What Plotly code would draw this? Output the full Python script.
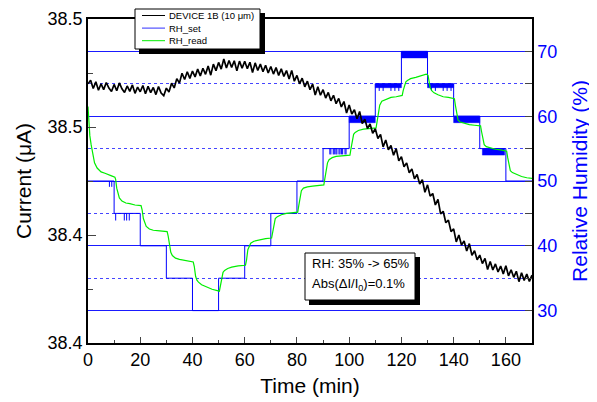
import plotly.graph_objects as go

# ---------------- data ----------------
time_min = list(range(0, 171))
current_uA = [
    38.4700, 38.4716, 38.4678, 38.4709, 38.4670, 38.4700, 38.4673, 38.4706, 38.4680, 38.4664,
    38.4697, 38.4668, 38.4704, 38.4677, 38.4660, 38.4690, 38.4665, 38.4695, 38.4656, 38.4685,
    38.4663, 38.4692, 38.4654, 38.4688, 38.4659, 38.4683, 38.4650, 38.4687, 38.4657, 38.4645,
    38.4680, 38.4662, 38.4703, 38.4681, 38.4724, 38.4703, 38.4749, 38.4720, 38.4756, 38.4725,
    38.4759, 38.4732, 38.4768, 38.4736, 38.4772, 38.4744, 38.4782, 38.4740, 38.4791, 38.4761,
    38.4799, 38.4768, 38.4815, 38.4773, 38.4808, 38.4776, 38.4807, 38.4760, 38.4805, 38.4772,
    38.4804, 38.4770, 38.4800, 38.4752, 38.4797, 38.4762, 38.4791, 38.4756, 38.4786, 38.4750,
    38.4780, 38.4745, 38.4775, 38.4739, 38.4769, 38.4734, 38.4761, 38.4722, 38.4762, 38.4712,
    38.4739, 38.4700, 38.4726, 38.4686, 38.4712, 38.4673, 38.4699, 38.4648, 38.4686, 38.4647,
    38.4673, 38.4634, 38.4660, 38.4621, 38.4647, 38.4608, 38.4632, 38.4593, 38.4618, 38.4565,
    38.4602, 38.4560, 38.4580, 38.4538, 38.4572, 38.4516, 38.4536, 38.4493, 38.4514, 38.4471,
    38.4492, 38.4447, 38.4466, 38.4408, 38.4440, 38.4395, 38.4414, 38.4369, 38.4400, 38.4343,
    38.4362, 38.4316, 38.4334, 38.4288, 38.4306, 38.4260, 38.4280, 38.4236, 38.4256, 38.4198,
    38.4232, 38.4180, 38.4192, 38.4139, 38.4165, 38.4098, 38.4110, 38.4057, 38.4069, 38.4016,
    38.4028, 38.3968, 38.4000, 38.3954, 38.3972, 38.3926, 38.3960, 38.3906, 38.3927, 38.3885,
    38.3907, 38.3868, 38.3892, 38.3840, 38.3877, 38.3838, 38.3866, 38.3829, 38.3856, 38.3820,
    38.3858, 38.3811, 38.3839, 38.3804, 38.3832, 38.3784, 38.3825, 38.3790, 38.3819, 38.3785,
    38.3814,
]

set_time = [0, 10, 20, 30, 40, 50, 60, 70, 80, 90, 100, 110, 120, 130, 140, 150, 160, 170]
set_rh = [50, 45, 40, 35, 30, 35, 40, 45, 50, 55, 60, 65, 70, 65, 60, 55, 50, 50]

# isolated glitches of the set-point reading: (time, level it drops to)
spike_time = [8.2, 9.1, 10.6, 13.9, 14.8, 15.8,
              92.6, 93.0, 93.9, 94.3, 94.9, 95.3, 96.1, 96.5, 97.1, 97.5, 98.4, 98.8,
              111.5, 113.0, 116.0, 117.5, 119.0, 131.5, 133.0, 136.0, 137.5, 139.0]
spike_level = [49.1, 49.1, 43.9, 43.9, 43.9, 43.9,
               54.1, 54.1, 54.1, 54.1, 54.1, 54.1, 54.1, 54.1, 54.1, 54.1, 54.1, 54.1,
               63.9, 63.9, 63.9, 63.9, 63.9, 63.9, 63.9, 63.9, 63.9, 63.9]
spike_base = [50, 50, 45, 45, 45, 45,
              55, 55, 55, 55, 55, 55, 55, 55, 55, 55, 55, 55,
              65, 65, 65, 65, 65, 65, 65, 65, 65, 65]

# dense set-point jitter bands: start, end, upper, lower
band_start = [100.0, 110.0, 120.0, 130.0, 140.0, 151.0]
band_end = [110.0, 120.0, 130.0, 140.0, 150.0, 159.5]
band_high = [60, 65, 70, 65, 60, 55]
band_low = [59.0, 64.4, 69.0, 64.4, 59.0, 54.0]

read_time = [
    0, 0.3, 0.7, 1.2, 1.8, 2.5, 3.5, 5, 6.5, 8, 9, 10.3,
    10.6, 11.0, 11.5, 12.0, 13.0, 14.5, 16, 18, 20.3,
    20.7, 21.2, 21.7, 22.3, 23.5, 25, 27.5, 30.3,
    30.7, 31.2, 31.7, 32.3, 33.5, 35, 37.5, 40.3,
    40.7, 41.2, 41.7, 42.3, 43.5, 45, 47.5, 50.3,
    50.7, 51.2, 51.7, 52.3, 53.5, 55, 57.5, 60.3,
    60.7, 61.2, 61.7, 62.3, 63.5, 65.5, 68, 70.3,
    70.7, 71.2, 71.7, 72.5, 74, 76, 78, 80.3,
    80.7, 81.2, 81.7, 82.5, 84, 86, 88, 90.3,
    90.7, 91.2, 91.7, 92.3, 93.5, 95, 97.5, 100.3,
    100.7, 101.2, 101.7, 102.3, 103.5, 105.5, 108, 110.3,
    110.7, 111.2, 111.7, 112.5, 114, 116, 118, 120.3,
    120.7, 121.2, 121.7, 122.3, 123.5, 125.5, 128, 129.5, 130.2,
    130.6, 131.0, 131.7, 132.5, 134, 136, 138, 140.3,
    140.7, 141.2, 141.7, 142.5, 144, 146, 148, 150.3,
    150.7, 151.2, 151.7, 152.5, 154, 156, 158, 160.3,
    160.7, 161.2, 161.7, 162.5, 164, 166, 168, 170,
]
read_rh = [
    61.5, 59.0, 57.0, 55.6, 54.0, 52.8, 52.0, 51.4, 51.2, 50.9, 50.8, 50.6,
    50.2, 48.9, 47.9, 47.4, 46.9, 46.6, 46.5, 46.3, 46.2,
    45.6, 44.2, 43.5, 43.0, 42.6, 42.4, 42.3, 42.2,
    41.5, 39.9, 39.0, 38.5, 38.1, 37.9, 37.7, 37.5,
    36.8, 35.3, 34.7, 34.4, 34.0, 33.7, 33.3, 33.0,
    33.8, 35.3, 35.9, 36.2, 36.5, 36.7, 36.9, 37.0,
    37.8, 39.4, 40.0, 40.4, 40.7, 40.9, 41.1, 41.2,
    42.1, 43.6, 44.2, 44.5, 44.8, 45.0, 45.1, 45.2,
    46.2, 47.8, 48.5, 48.9, 49.1, 49.2, 49.3, 49.4,
    50.4, 52.0, 52.8, 53.3, 53.6, 53.8, 53.9, 54.0,
    55.0, 56.5, 57.2, 57.5, 57.8, 58.0, 58.1, 58.2,
    59.2, 60.9, 61.7, 62.3, 62.6, 62.9, 63.0, 63.2,
    64.0, 64.9, 65.3, 65.5, 65.8, 66.0, 66.3, 66.5, 66.3,
    65.2, 64.4, 63.9, 63.6, 63.3, 63.0, 62.9, 62.7,
    61.6, 60.1, 59.4, 59.1, 58.9, 58.7, 58.6, 58.5,
    57.6, 56.2, 55.6, 55.3, 55.1, 54.9, 54.8, 54.6,
    53.6, 52.2, 51.6, 51.3, 51.0, 50.7, 50.5, 50.4,
]

x_ticks = [0, 20, 40, 60, 80, 100, 120, 140, 160]
cur_tickvals = [38.35, 38.40, 38.45, 38.50]
cur_ticktext = ["38.4", "38.4", "38.5", "38.5"]
rh_ticks = [30, 40, 50, 60, 70]

series_names = ["DEVICE 1B (10 μm)", "RH_set", "RH_read"]
series_colors = ["black", "#3030ff", "#00ee00"]

# --------------- build -----------------
FONT = "Arial, Liberation Sans, sans-serif"
BLUE = "#0000ff"
GRID_BLUE = "#1a1aff"
PAGE_OFF = 8                     # the page body adds an 8px margin
W, H = 597 - PAGE_OFF, 402 - PAGE_OFF
L, R, T, B = 88, 532, 19, 343    # plot area, in screenshot pixels


def px(x):
    return (x - L) / (R - L)


def py(y):
    return 1 - (y - T) / (B - T)


# set-point line: step + glitches
sx, sy = [], []
for i in range(len(set_time) - 1):
    sx += [set_time[i], set_time[i + 1]]
    sy += [set_rh[i], set_rh[i]]
    if i + 1 < len(set_time) - 1:
        sx += [set_time[i + 1]]
        sy += [set_rh[i + 1]]
for t, lo, b in zip(spike_time, spike_level, spike_base):
    sx += [None, t, t]
    sy += [None, b, lo]

bx, by = [], []
for a, e, h, l in zip(band_start, band_end, band_high, band_low):
    bx += [a, e, e, a, a, None]
    by += [h, h, l, l, h, None]

fig = go.Figure()
fig.add_trace(go.Scatter(x=sx, y=sy, mode="lines", name=series_names[1], legendgroup="set",
                         line=dict(color=BLUE, width=1), yaxis="y"))
fig.add_trace(go.Scatter(x=bx, y=by, mode="lines", fill="toself", fillcolor=BLUE,
                         line=dict(color=BLUE, width=0.5), legendgroup="set",
                         yaxis="y", hoverinfo="skip"))
fig.add_trace(go.Scatter(x=read_time, y=read_rh, mode="lines", name=series_names[2],
                         line=dict(color="#00ee00", width=1.2), yaxis="y"))
fig.add_trace(go.Scatter(x=time_min, y=current_uA, mode="lines", name=series_names[0],
                         line=dict(color="black", width=1.7), yaxis="y2"))

shapes = []
annotations = []
# legend box with drop shadow
shapes.append(dict(type="rect", xref="paper", yref="paper", layer="above",
                   x0=px(139), x1=px(265), y0=py(54), y1=py(13),
                   fillcolor="black", line=dict(width=0)))
shapes.append(dict(type="rect", xref="paper", yref="paper", layer="above",
                   x0=px(135), x1=px(260), y0=py(49), y1=py(9),
                   fillcolor="white", line=dict(color="black", width=1)))
for k, (nm, col) in enumerate(zip(series_names, series_colors)):
    yy = 15.5 + k * 12.6
    shapes.append(dict(type="line", xref="paper", yref="paper", layer="above",
                       x0=px(142), x1=px(165), y0=py(yy), y1=py(yy),
                       line=dict(color=col, width=1)))
    annotations.append(dict(text=nm, xref="paper", yref="paper", x=px(167), y=py(yy),
                            xanchor="left", yanchor="middle", showarrow=False,
                            font=dict(size=9.5, family=FONT, color="black")))
# note box with drop shadow
shapes.append(dict(type="rect", xref="paper", yref="paper", layer="above",
                   x0=px(309), x1=px(420), y0=py(305), y1=py(257),
                   fillcolor="black", line=dict(width=0)))
shapes.append(dict(type="rect", xref="paper", yref="paper", layer="above",
                   x0=px(305), x1=px(415), y0=py(300), y1=py(253),
                   fillcolor="white", line=dict(color="black", width=1)))
annotations.append(dict(text="RH: 35% -> 65%", xref="paper", yref="paper",
                        x=px(310), y=py(263), xanchor="left", yanchor="middle",
                        showarrow=False, font=dict(size=13, family=FONT)))
annotations.append(dict(text="Abs(ΔI/I<sub>0</sub>)=0.1%", xref="paper", yref="paper",
                        x=px(310), y=py(284), xanchor="left", yanchor="middle",
                        showarrow=False, font=dict(size=13, family=FONT)))

fig.update_layout(
    width=W, height=H,
    margin=dict(l=L - PAGE_OFF, r=597 - R, t=T - PAGE_OFF, b=402 - B, autoexpand=False),
    paper_bgcolor="white", plot_bgcolor="white",
    font=dict(family=FONT, size=18, color="black"),
    showlegend=False,
    xaxis=dict(range=[0, 170], tickvals=x_ticks, ticks="inside", ticklen=6,
               showline=True, linecolor="black", linewidth=1.5, mirror=True,
               showgrid=False, zeroline=False, automargin=False,
               minor=dict(dtick=10, tick0=0, ticks="inside", ticklen=3, showgrid=False),
               title=dict(text="Time (min)", font=dict(size=21), standoff=9),
               tickfont=dict(size=18)),
    yaxis=dict(range=[25, 75], side="right", tickvals=rh_ticks, ticks="inside", ticklen=7,
               showline=True, linecolor="black", linewidth=1.5, automargin=False,
               showgrid=True, gridcolor=GRID_BLUE, gridwidth=1, zeroline=False,
               minor=dict(tickvals=[35, 45, 55, 65], ticks="inside", ticklen=7,
                          showgrid=True, gridcolor="#4545ff", griddash="dot", gridwidth=1),
               tickfont=dict(size=18, color=BLUE),
               title=dict(text="Relative Humidity (%)", font=dict(size=21, color=BLUE), standoff=16)),
    yaxis2=dict(range=[38.35, 38.50], side="left", overlaying="y",
                tickvals=cur_tickvals, ticktext=cur_ticktext, ticks="inside", ticklen=8,
                showline=True, linecolor="black", linewidth=1.5, automargin=False,
                showgrid=False, zeroline=False,
                minor=dict(tickvals=[38.375, 38.425, 38.475], ticks="inside", ticklen=5),
                tickfont=dict(size=18),
                title=dict(text="Current (μA)", font=dict(size=21), standoff=10)),
    annotations=annotations,
    shapes=shapes,
)

fig.write_html("out.html")
